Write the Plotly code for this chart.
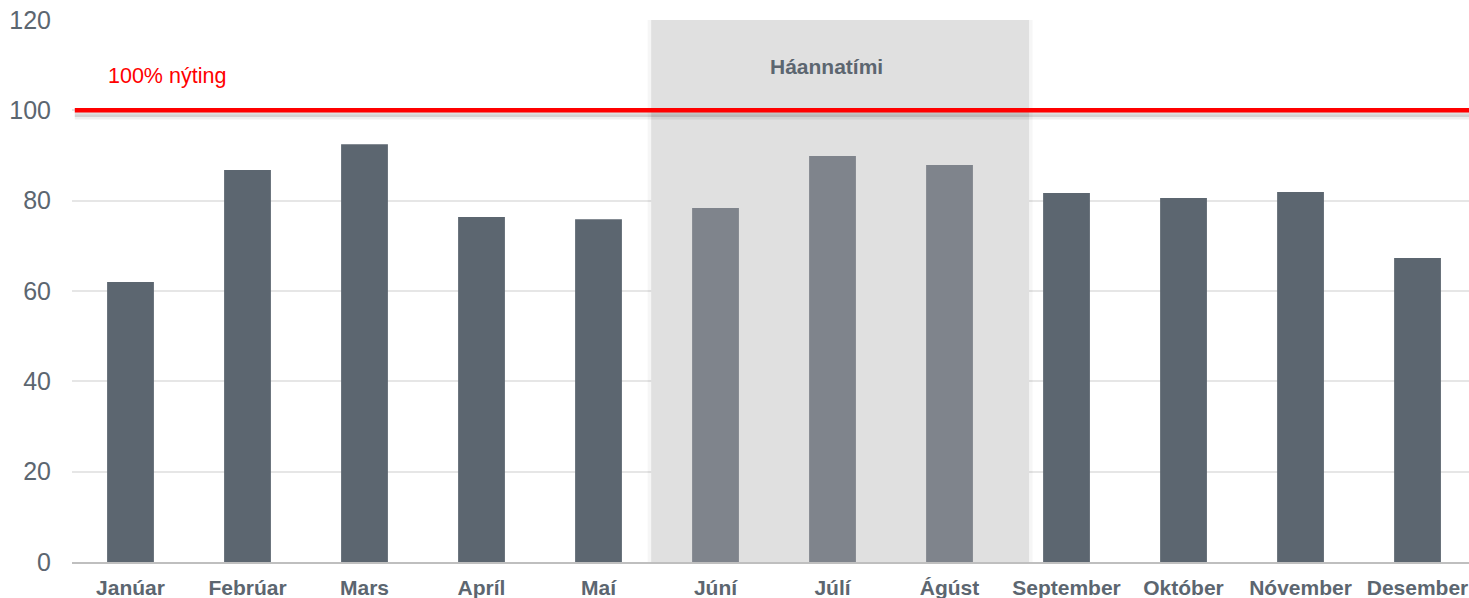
import plotly.graph_objects as go

months = ["Janúar", "Febrúar", "Mars", "Apríl", "Maí", "Júní", "Júlí", "Ágúst",
          "September", "Október", "Nóvember", "Desember"]
values = [62.0, 86.8, 92.5, 76.4, 75.9, 78.4, 89.9, 87.9, 81.7, 80.6, 81.9, 67.3]
peak_months = ["Júní", "Júlí", "Ágúst"]
y_ticks = [0, 20, 40, 60, 80, 100, 120]
capacity_level = 100
capacity_label = "100% nýting"
peak_label = "Háannatími"

dark = "#5c6670"
light = "#7f848c"
colors = [light if m in peak_months else dark for m in months]

fig = go.Figure()
fig.add_trace(go.Bar(x=months, y=values, marker=dict(color=colors, line=dict(width=0)),
                     width=0.40, hoverinfo="x+y"))

shapes = []
# peak season shaded block with soft shadow
shapes.append(dict(type="rect", xref="x", yref="y", x0=4.42, x1=7.71, y0=0, y1=120.3,
                   fillcolor="rgba(0,0,0,0.035)", line=dict(width=0), layer="between"))
shapes.append(dict(type="rect", xref="x", yref="y", x0=4.45, x1=7.68, y0=0, y1=120,
                   fillcolor="#e0e0e0", line=dict(width=0), layer="between"))
# shadow of red line
shapes.append(dict(type="line", xref="paper", yref="y", x0=0.002, x1=1, y0=capacity_level - 0.9,
                   y1=capacity_level - 0.9, line=dict(color="rgba(0,0,0,0.12)", width=5), layer="above"))
shapes.append(dict(type="line", xref="paper", yref="y", x0=0.002, x1=1, y0=capacity_level - 1.5,
                   y1=capacity_level - 1.5, line=dict(color="rgba(0,0,0,0.06)", width=5), layer="above"))
# red capacity line
shapes.append(dict(type="line", xref="paper", yref="y", x0=0.002, x1=1, y0=capacity_level,
                   y1=capacity_level, line=dict(color="#ff0000", width=4.5), layer="above"))

fig.update_layout(
    width=1469, height=598,
    margin=dict(l=72, r=0, t=20, b=36),
    paper_bgcolor="white", plot_bgcolor="white",
    showlegend=False,
    bargap=0.6,
    font=dict(family="Liberation Sans, Arial, sans-serif", color=dark),
    shapes=shapes,
    annotations=[
        dict(text=capacity_label, xref="x", yref="y", x=0.31, y=107.6, showarrow=False,
             font=dict(size=21.5, color="#ff0000"), xanchor="center", yanchor="middle"),
        dict(text="<b>" + peak_label + "</b>", xref="x", yref="y", x=5.95, y=109.8, showarrow=False,
             font=dict(size=21, color=dark), xanchor="center", yanchor="middle"),
    ],
)
fig.update_xaxes(range=[-0.5, 11.44], showgrid=False, showline=True, linecolor="#bfbfbf",
                 linewidth=2, ticks="", tickfont=dict(size=21, color=dark, weight="bold"),
                 ticklabelstandoff=6, fixedrange=True)
fig.update_yaxes(range=[0, 120], tickvals=y_ticks, showgrid=True, gridcolor="#e6e6e6",
                 gridwidth=1.5, zeroline=False, showline=False, ticks="",
                 tickfont=dict(size=25, color=dark), ticklabelstandoff=20, fixedrange=True)

fig.write_html(
    "out.html",
    config={"displayModeBar": False},
    post_script="document.body.style.margin='0';document.body.style.overflow='hidden';",
)
